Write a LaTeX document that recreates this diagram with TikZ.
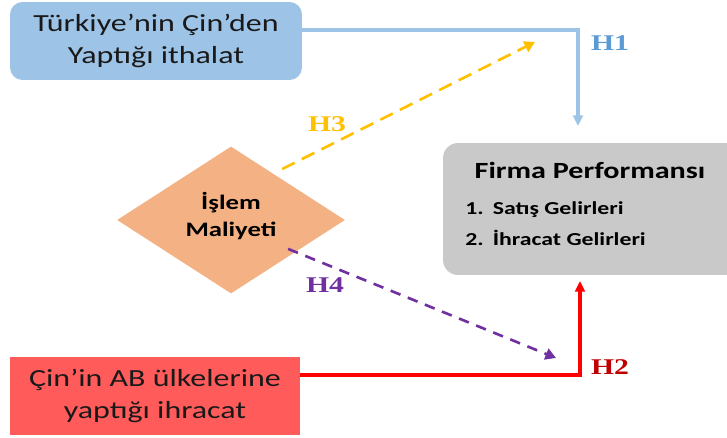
\documentclass[tikz,border=0pt]{standalone}
\usepackage{fontspec}
\setmainfont{Carlito}[FakeStretch=1.3]
\newfontfamily\hypfont{Liberation Serif}[FakeStretch=1.32]
\usetikzlibrary{arrows.meta,shapes.geometric}

\definecolor{impblue}{HTML}{9DC3E6}
\definecolor{hblue}{HTML}{5B9BD5}
\definecolor{expred}{HTML}{FF5B5B}
\definecolor{costorange}{HTML}{F4B183}
\definecolor{perfgray}{HTML}{C9C9C9}
\definecolor{hyellow}{HTML}{FFC000}
\definecolor{hpurple}{HTML}{7030A0}
\definecolor{hred}{HTML}{C00000}

\begin{document}
\begin{tikzpicture}[x=0.02cm,y=-0.02cm,
  inbox/.style={align=center,text=black!90,inner sep=0pt,font=\fontsize{14}{18.7}\selectfont},
  hyp/.style={font=\hypfont\bfseries\fontsize{12.8}{14}\selectfont},
  solidarr/.style={line width=2.2pt,-{Triangle[length=6pt,width=5.5pt]}},
  dasharr/.style={line width=1.5pt,dash pattern=on 8pt off 4.5pt,-{Triangle[length=6pt,width=6.5pt]}}]

  \useasboundingbox (0,0) rectangle (727,438);
  \clip (0,0) rectangle (727,438);

  % boxes
  \node[inbox,fill=impblue,rounded corners=0.25cm,minimum width=5.84cm,minimum height=1.56cm] (imp) at (156,41) {Türkiye’nin Çin’den\\Yaptığı ithalat};
  \node[inbox,fill=expred,minimum width=5.8cm,minimum height=1.58cm] (exp) at (155,396) {Çin’in AB ülkelerine\\yaptığı ihracat};
  \node[diamond,fill=costorange,inner sep=0pt,minimum width=4.56cm,minimum height=2.92cm,align=center,text depth=0.24cm,font=\bfseries\fontsize{11.7}{15.3}\selectfont] (cost) at (231,220) {İşlem\\Maliyeti};
  \node[fill=perfgray,rounded corners=0.3cm,minimum width=6.04cm,minimum height=2.64cm] (perf) at (594,209) {};
  \node[font=\bfseries\fontsize{13.2}{16}\selectfont] (perftitle) at (590,170) {Firma Performansı};
  \node[anchor=base west,inner sep=0pt,font=\bfseries\fontsize{10.4}{12}\selectfont] (sales) at (465,215) {1.\hspace{0.5em}Satış Gelirleri};
  \node[anchor=base west,inner sep=0pt,font=\bfseries\fontsize{10.4}{12}\selectfont] (exports) at (465,246) {2.\hspace{0.5em}İhracat Gelirleri};

  % arrows
  \coordinate (h1end) at (578,126);
  \coordinate (h2end) at (580,281);
  \coordinate (h3end) at (535,42);
  \coordinate (h4end) at (556,358);
  \draw[solidarr,impblue] ([yshift=0.22cm]imp.east) -| (h1end);
  \draw[solidarr,red] ([yshift=0.42cm]exp.east) -| (h2end);
  \draw[dasharr,hyellow] ([shift={(-0.12cm,0.28cm)}]cost.north east) -- (h3end);
  \draw[dasharr,hpurple,dash pattern=on 6pt off 4.5pt] ([yshift=0.16cm]cost.south east) -- (h4end);

  % hypothesis labels
  \node[hyp,text=hblue] (h1) at (610,43) {H1};
  \node[hyp,text=hred] (h2) at (610,367) {H2};
  \node[hyp,text=hyellow] (h3) at (327,124) {H3};
  \node[hyp,text=hpurple] (h4) at (325,285) {H4};

\end{tikzpicture}
\end{document}
